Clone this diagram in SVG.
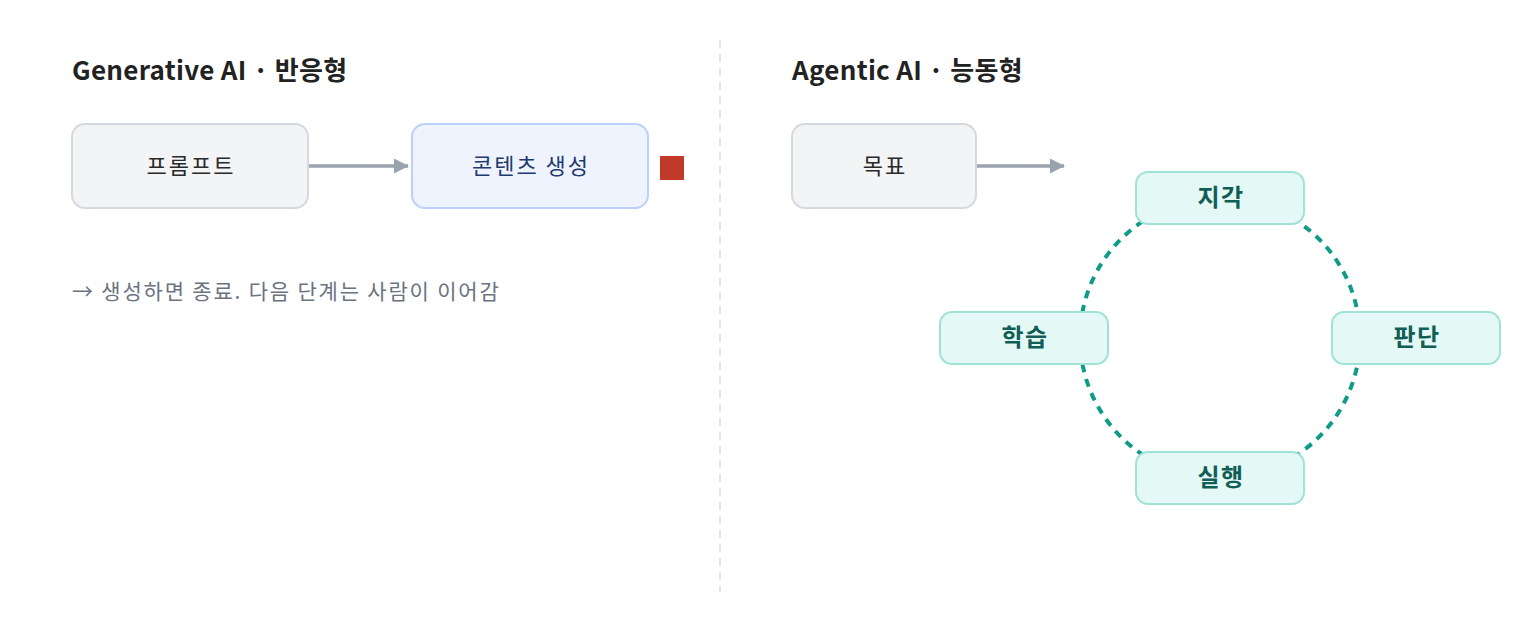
<svg xmlns="http://www.w3.org/2000/svg" width="1540" height="640" viewBox="0 0 1540 640">
<style>
text{font-family:"Noto Sans CJK KR","Noto Sans",sans-serif}
.title{font-size:26px;font-weight:700;fill:#222;letter-spacing:0.3px}
.gray rect{fill:#f3f4f6;stroke:#d5d8de;stroke-width:2}
.gray text{font-size:22px;fill:#2a2a2a;text-anchor:middle;letter-spacing:2px}
.blue rect{fill:#eef3fe;stroke:#bcd0fb;stroke-width:2}
.blue text{font-size:22px;fill:#1e3a6e;text-anchor:middle;letter-spacing:2px}
.teal rect{fill:#e4f8f5;stroke:#9fe2d6;stroke-width:2}
.teal text{font-size:24px;font-weight:700;fill:#115e56;text-anchor:middle;letter-spacing:1.5px}
.arrow{stroke:#9aa2ae;stroke-width:3.5;fill:none}
.ring{stroke:#109a88;stroke-width:4;fill:none;stroke-dasharray:8 7}
.note{font-size:21px;fill:#6b7280;letter-spacing:1.8px}
</style>
<defs>
<marker id="ah" markerWidth="15" markerHeight="15" refX="14" refY="7.5" orient="auto" markerUnits="userSpaceOnUse">
<path d="M0,0 L15,7.5 L0,15 Z" fill="#9aa2ae"/>
</marker>
</defs>
<line x1="720" y1="40" x2="720" y2="592" stroke="#e3e5e8" stroke-width="2" stroke-dasharray="8 6"/>
<text class="title" x="72" y="80">Generative AI · 반응형</text>
<text class="title" x="792" y="80">Agentic AI · 능동형</text>
<g id="connectors">
<line class="arrow" x1="308" y1="166" x2="408" y2="166" marker-end="url(#ah)"/>
<line class="arrow" x1="976" y1="166" x2="1064" y2="166" marker-end="url(#ah)"/>
<circle class="ring" cx="1220" cy="338" r="140"/>
</g>
<g id="prompt" class="gray"><rect x="72" y="124" width="236" height="84" rx="13"/><text x="191" y="174">프롬프트</text></g>
<g id="content" class="blue"><rect x="412" y="124" width="236" height="84" rx="13"/><text x="531" y="174">콘텐츠 생성</text></g>
<rect id="stop" x="660" y="156" width="24" height="24" fill="#c0392b"/>
<text id="note" class="note" x="72" y="299">→ 생성하면 종료. 다음 단계는 사람이 이어감</text>
<g id="goal" class="gray"><rect x="792" y="124" width="184" height="84" rx="13"/><text x="885" y="174">목표</text></g>
<g id="perceive" class="teal"><rect x="1136" y="172" width="168" height="52" rx="12"/><text x="1221" y="206">지각</text></g>
<g id="judge" class="teal"><rect x="1332" y="312" width="168" height="52" rx="12"/><text x="1417" y="346">판단</text></g>
<g id="act" class="teal"><rect x="1136" y="452" width="168" height="52" rx="12"/><text x="1221" y="486">실행</text></g>
<g id="learn" class="teal"><rect x="940" y="312" width="168" height="52" rx="12"/><text x="1025" y="346">학습</text></g>
</svg>
